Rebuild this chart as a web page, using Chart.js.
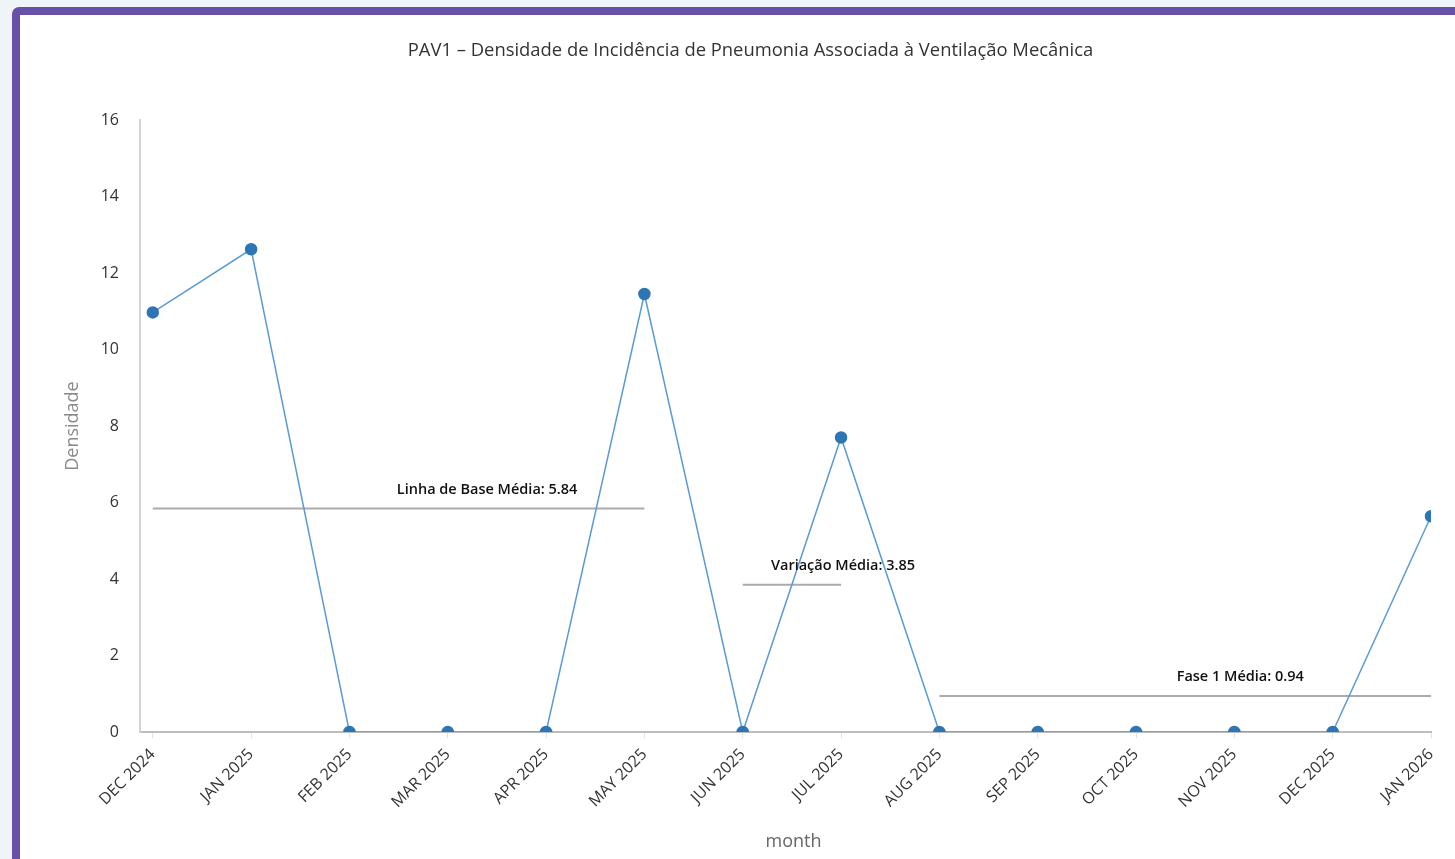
<!DOCTYPE html>
<html>
<head>
<meta charset="utf-8">
<title>PAV1</title>
<script src="https://cdn.jsdelivr.net/npm/chart.js@4.4.1/dist/chart.umd.min.js"></script>
<style>
  html, body { margin: 0; padding: 0; overflow: hidden; }
  body { width: 1455px; height: 859px; background: #eef4f7; position: relative; }
  .panel {
    position: absolute; left: 12px; top: 7px; width: 1480px; height: 850px;
    border: 8px solid #6750a7; border-radius: 7px; background: #fff;
  }
  #chart-wrap { position: absolute; left: 0; top: 0; width: 1455px; height: 859px; }
</style>
</head>
<body>
<div class="panel"></div>
<div id="chart-wrap"><canvas id="pav-chart"></canvas></div>
<script>
// Monthly VAP incidence density
const months = ['DEC 2024', 'JAN 2025', 'FEB 2025', 'MAR 2025', 'APR 2025', 'MAY 2025', 'JUN 2025',
                'JUL 2025', 'AUG 2025', 'SEP 2025', 'OCT 2025', 'NOV 2025', 'DEC 2025', 'JAN 2026'];
const densidade = [10.97, 12.62, 0, 0, 0, 11.45, 0, 7.7, 0, 0, 0, 0, 0, 5.64];

// Phase averages: label, first month index, last month index, mean
const phaseNames = ['Linha de Base Média', 'Variação Média', 'Fase 1 Média'];
const phaseStart = [0, 6, 8];
const phaseEnd = [5, 7, 13];
const phaseMean = [5.84, 3.85, 0.94];

const yTicks = [0, 2, 4, 6, 8, 10, 12, 14, 16];

const chartTitle = 'PAV1 – Densidade de Incidência de Pneumonia Associada à Ventilação Mecânica';
const xTitle = 'month';

const FONT = "'Open Sans', 'Noto Sans', sans-serif";

const datasets = [{
    label: 'Densidade',
    data: densidade.map((v, i) => ({ x: i, y: v })),
    borderColor: '#5b9bd5',
    borderWidth: 1.5,
    pointRadius: 5.5,
    pointHoverRadius: 5.5,
    pointBackgroundColor: '#2e75b6',
    pointBorderColor: '#2e75b6',
    tension: 0
}];
phaseNames.forEach((name, k) => {
    datasets.push({
        label: name,
        data: [{ x: phaseStart[k], y: phaseMean[k] }, { x: phaseEnd[k], y: phaseMean[k] }],
        borderColor: '#ababab',
        borderWidth: 2,
        pointRadius: 0,
        pointHoverRadius: 0
    });
});

// chart title across the panel and the x axis name under the labels
const panelTitles = {
    id: 'panelTitles',
    afterDraw(chart, args, opts) {
        const { ctx, chartArea } = chart;
        ctx.save();
        ctx.textAlign = 'center';
        ctx.textBaseline = 'middle';
        ctx.font = opts.font;
        ctx.fillStyle = '#333';
        ctx.fillText(chartTitle, chart.width / 2 + opts.shift, opts.y);
        ctx.font = opts.axisFont;
        ctx.fillStyle = '#666';
        ctx.fillText(xTitle, (chartArea.left + chartArea.right) / 2 + opts.axisShift, opts.axisY);
        ctx.restore();
    }
};

// writes "name: mean" above each average line
const phaseLabels = {
    id: 'phaseLabels',
    afterDatasetsDraw(chart, args, opts) {
        const { ctx, scales: { x, y } } = chart;
        ctx.save();
        ctx.font = opts.font;
        ctx.fillStyle = '#111';
        ctx.textAlign = 'center';
        ctx.textBaseline = 'middle';
        phaseNames.forEach((name, k) => {
            const px = x.getPixelForValue(opts.centers[k]);
            const py = y.getPixelForValue(phaseMean[k]) - opts.lift;
            ctx.fillText(name + ': ' + phaseMean[k].toFixed(2), px, py);
        });
        ctx.restore();
    }
};

new Chart(document.getElementById('pav-chart').getContext('2d'), {
    type: 'line',
    data: { datasets: datasets },
    plugins: [phaseLabels, panelTitles],
    options: {
        responsive: true,
        maintainAspectRatio: false,
        animation: false,
        layout: { padding: { left: 0, right: 24, top: 120, bottom: 5 } },
        plugins: {
            legend: { display: false },
            tooltip: { enabled: false },
            title: { display: false },
            panelTitles: {
                font: "18.4px " + FONT, y: 51, shift: 23,
                axisFont: "18px " + FONT, axisY: 842, axisShift: 8
            },
            phaseLabels: { centers: [3.4, 7.02, 11.06], lift: 19, font: "600 14.5px " + FONT }
        },
        scales: {
            x: {
                type: 'linear',
                min: -0.13,
                max: months.length - 1,
                afterBuildTicks: s => { s.ticks = months.map((m, i) => ({ value: i })); },
                afterFit: s => { s.height = 122; },
                grid: { drawOnChartArea: false, tickLength: 6, color: '#d9e4f2' },
                border: { color: '#bdbdbd', width: 2 },
                ticks: {
                    autoSkip: false,
                    minRotation: 45,
                    maxRotation: 45,
                    padding: 7,
                    color: '#333',
                    font: { family: FONT, size: 16 },
                    callback: v => months[v]
                }
            },
            y: {
                min: 0,
                max: 16,
                afterBuildTicks: s => { s.ticks = yTicks.map(v => ({ value: v })); },
                afterFit: s => { s.width = 140; },
                grid: { display: false, drawTicks: false },
                border: { color: '#d4d4d4', width: 2 },
                ticks: {
                    padding: 21,
                    color: '#333',
                    font: { family: FONT, size: 16 }
                },
                title: {
                    display: true,
                    text: 'Densidade',
                    color: '#8a8a8a',
                    font: { family: FONT, size: 18 },
                    padding: { top: 62, bottom: 0 }
                }
            }
        }
    }
});
</script>
</body>
</html>
